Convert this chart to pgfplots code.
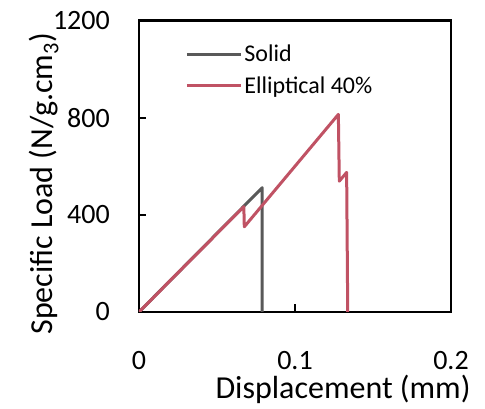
\documentclass[border=0pt]{standalone}
\usepackage{pgfplots}
\pgfplotsset{compat=1.18}
\usepackage{fontspec}
\setmainfont{Carlito}
\definecolor{solidgray}{RGB}{89,89,89}
\definecolor{ellred}{RGB}{192,82,100}
\begin{document}
\begin{tikzpicture}
\begin{axis}[
  scale only axis,
  width=312pt, height=291.3pt,
  xmin=0, xmax=0.2, ymin=0, ymax=1200,
  xtick={0,0.1,0.2}, ytick={0,400,800,1200},
  xtick pos=bottom, ytick pos=left,
  tick align=inside,
  major tick length=7.5pt,
  every tick/.style={black, line width=2pt},
  axis line style={black, line width=2.5pt},
  /pgf/number format/assume math mode=true,
  /pgf/number format/1000 sep={},
  xticklabel style={font=\fontsize{28}{32}\selectfont, anchor=base, inner sep=0pt, yshift=-58pt},
  yticklabel style={font=\fontsize{28}{32}\selectfont, anchor=east, inner xsep=0pt, xshift=-29pt},
  xlabel={Displacement (mm)},
  ylabel={Specific Load (N/g.cm\textsubscript{3})},
  xlabel style={font=\fontsize{32}{36}\selectfont, inner sep=0pt, at={(axis description cs:0.654,-0.267)}, anchor=center},
  ylabel style={font=\fontsize{32}{36}\selectfont, at={(axis description cs:-0.305,0.44)}, anchor=center},
  legend image code/.code={\draw[#1] (0pt,0pt) -- (54pt,0pt);},
  legend cell align=left,
  legend style={draw=none, fill=none, inner sep=0pt, row sep=9pt,
    font=\fontsize{24}{27}\selectfont,
    at={(axis description cs:0.148,0.831)}, anchor=west},
]
\addplot[solidgray, line width=3pt, line join=round] coordinates {
  (0,0) (0.0790,512) (0.0790,0)
};
\addlegendentry{Solid}
\addplot[ellred, line width=3pt, line join=round] coordinates {
  (0,0) (0.0672,434) (0.0675,351) (0.1278,814) (0.1284,539) (0.1331,575) (0.1338,0)
};
\addlegendentry{Elliptical 40\%}
\end{axis}
\pgfresetboundingbox
\useasboundingbox (-139pt,-97pt) rectangle (346pt,312pt);
\end{tikzpicture}
\end{document}
